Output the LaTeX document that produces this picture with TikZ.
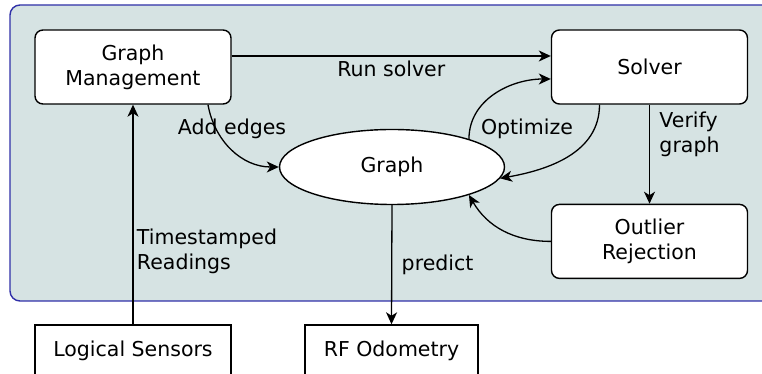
\documentclass[tikz,border=0pt]{standalone}
\usepackage{fontspec}
\setmainfont{DejaVu Sans}
\usetikzlibrary{positioning,arrows.meta,shapes.geometric}

\definecolor{panelfill}{HTML}{D6E3E3}
\definecolor{panelline}{HTML}{3030A8}

\begin{document}
\begin{tikzpicture}[
x=1pt,y=1pt,
every node/.style={font=\fontsize{20.5}{25}\selectfont},
block/.style={
  draw,
  rounded corners=8pt,
  fill=white,
  line width=1.4pt,
  minimum width=196pt,
  minimum height=74pt,
  align=center
},
sensor/.style={
  draw,
  fill=white,
  line width=1.4pt,
  minimum height=52pt
},
flow/.style={
  -{Stealth[length=12pt,width=11pt,inset=3.5pt]},
  line width=1.3pt
},
node distance=99pt
]
\clip (0,0) rectangle (762,374);
\useasboundingbox (0,0) rectangle (762,374);

% background panel
\draw[panelline,fill=panelfill,line width=1.4pt,rounded corners=10pt]
  (10,369) rectangle (790,73);

\node[block] at (133,307)
  (manage) {Graph\\Management};
\node[block] at (649.5,307)
  (solver) {Solver};
\node[block,below=of solver]
  (outlier) {Outlier\\Rejection};
\node[draw,ellipse,fill=white,line width=1.4pt,minimum width=225pt,minimum height=75pt] at (392,207)
  (graph) {Graph};

\node[sensor,minimum width=196pt] at (133,23)
  (sensors) {Logical Sensors};
\node[sensor,minimum width=173pt] at (391.5,23)
  (odometry) {RF Odometry};

\draw[flow] ([yshift=11pt]manage.east) -- node[below=1pt] {Run solver} ([yshift=11pt]solver.west);
\draw[flow] ([xshift=75pt]manage.south) to[out=-80,in=180] (graph.west);
\draw[flow] (graph.20) to[out=90,in=180] ([yshift=-12pt]solver.west);
\draw[flow] ([xshift=-50pt]solver.south) to[out=-90,in=10] (graph.-6);
\draw[flow] (solver.south) -- node[pos=0.3,right=6pt,align=left] {Verify\\graph} (outlier.north);
\draw[flow] (outlier.west) to[out=180,in=-60] (graph.-20);
\draw[flow] (sensors.north) -- node[pos=0.33,right=0pt,align=left] {Timestamped\\Readings} (manage.south);
\draw[flow] (graph.south) -- node[right=6pt] {predict} (odometry.north);

\node at (232,245) (addlabel) {Add edges};
\node at (527,245) (optlabel) {Optimize};

\end{tikzpicture}
\end{document}
